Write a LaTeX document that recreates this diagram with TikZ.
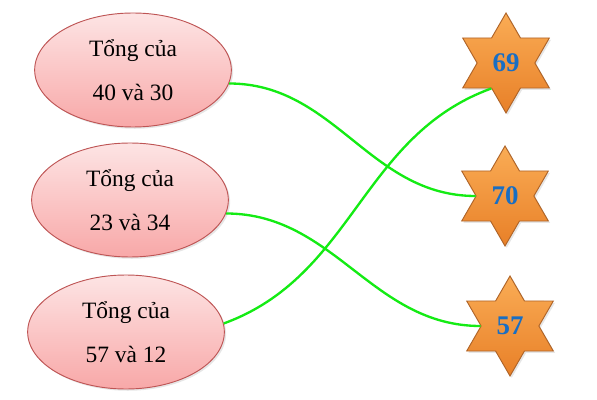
\documentclass[tikz,border=0pt]{standalone}
\usepackage{fontspec}
\setmainfont{Liberation Serif}
\usepackage{tikz}
\usetikzlibrary{shapes.geometric, shadows}

\definecolor{sumTop}{RGB}{253,228,228}
\definecolor{sumBot}{RGB}{248,168,168}
\definecolor{sumEdge}{RGB}{190,85,85}
\definecolor{starTop}{RGB}{250,172,85}
\definecolor{starBot}{RGB}{232,128,40}
\definecolor{starEdge}{RGB}{175,100,40}
\definecolor{numBlue}{RGB}{25,110,195}
\definecolor{linkGreen}{RGB}{20,235,20}

\begin{document}
\begin{tikzpicture}[x=0.03cm, y=-0.03cm,
    sumbox/.style={ellipse, draw=sumEdge, thick, top color=sumTop, bottom color=sumBot,
        minimum width=5.9cm, minimum height=3.42cm, align=center,
        font=\fontsize{20}{37}\selectfont,
        drop shadow={opacity=0.2, shadow xshift=1.5pt, shadow yshift=-1.5pt}},
    numstar/.style={star, star points=6, star point ratio=1.732, minimum size=3cm, inner sep=0pt,
        draw=starEdge, thick, top color=starTop, bottom color=starBot,
        text=numBlue, font=\fontsize{23}{23}\selectfont\bfseries,
        drop shadow={opacity=0.2, shadow xshift=1.5pt, shadow yshift=-1.5pt}},
    link/.style={linkGreen, line width=2pt}]
    \useasboundingbox (0,0) rectangle (597,400);

    % Draw the three sums on the left
    \foreach \i/\x/\y/\txt in {1/133/70/40 và 30, 2/130/200/23 và 34, 3/126/332/57 và 12}
        \node[sumbox] (Sum\i) at (\x,\y) {Tổng của\\\txt};

    % Draw the stars with the results
    \foreach \n/\x/\y in {69/506/63, 70/505/196, 57/510/326}
        \node[numstar] (Star\n) at (\x,\y) {\n};

    % Connect each sum to its result
    \draw[link] (Sum1.-8) to[out=0, in=180] (Star70.180);
    \draw[link] (Sum2.-8) to[out=0, in=180] (Star57.180);
    \draw[link] (Sum3.5) to[out=20, in=200] (Star69.240);
\end{tikzpicture}
\end{document}
